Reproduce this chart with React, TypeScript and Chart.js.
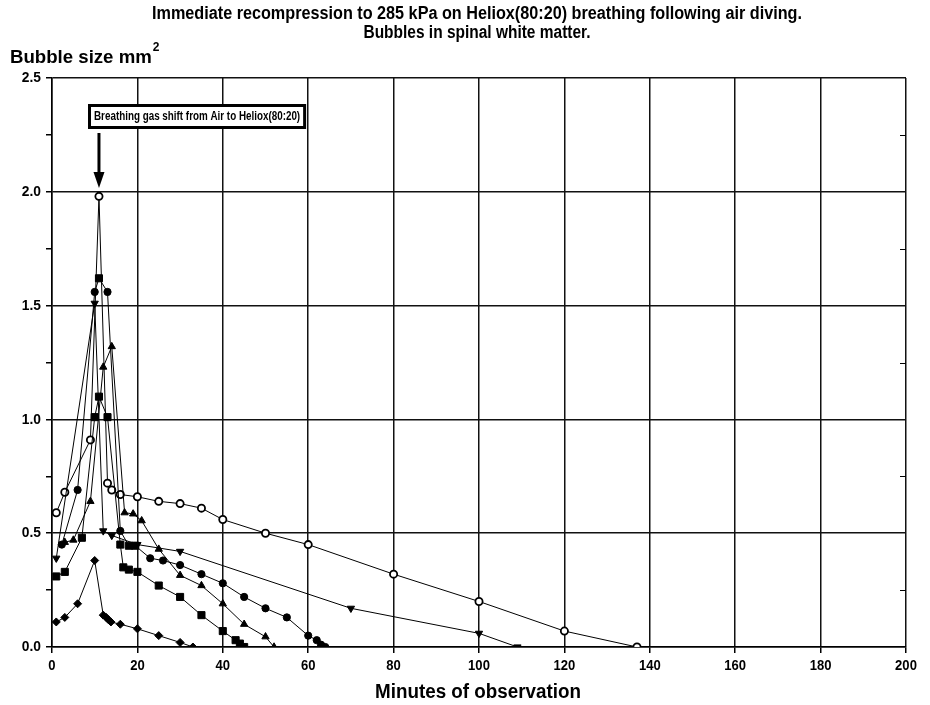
import React, { useEffect, useRef } from 'react';
import { Chart, registerables } from 'chart.js';

Chart.register(...registerables);

const FONT = "'Liberation Sans', Arial, sans-serif";

const titleLines = [
  'Immediate recompression to 285 kPa on Heliox(80:20) breathing following air diving.',
  'Bubbles in spinal white matter.',
];
const yAxisTitle = 'Bubble size mm';
const yAxisTitleSup = '2';
const xAxisTitle = 'Minutes of observation';
const annotationText = 'Breathing gas shift from Air to Heliox(80:20)';
const annotationX = 11;

const xTickValues = [0, 20, 40, 60, 80, 100, 120, 140, 160, 180, 200];
const yTickValues = [0, 0.5, 1.0, 1.5, 2.0, 2.5];

// Series: open circles
const openCircleX = [1, 3, 9, 11, 13, 14, 16, 20, 25, 30, 35, 40, 50, 60, 80, 100, 120, 137];
const openCircleY = [0.59, 0.68, 0.91, 1.98, 0.72, 0.69, 0.67, 0.66, 0.64, 0.63, 0.61, 0.56, 0.5, 0.45, 0.32, 0.2, 0.07, 0];

// Series: filled circles (a few points drawn with square markers as in the source)
const filledCircleX = [2.3, 6, 10, 11, 13, 16, 18, 19.5, 23, 26, 30, 35, 40, 45, 50, 55, 60, 62, 63, 64];
const filledCircleY = [0.45, 0.69, 1.56, 1.62, 1.56, 0.51, 0.445, 0.445, 0.39, 0.38, 0.36, 0.32, 0.28, 0.22, 0.17, 0.13, 0.05, 0.03, 0.01, 0];
const filledCircleSquareAt = [11, 18, 19.5];

// Series: squares
const squareX = [1, 3, 7, 10, 11, 13, 16, 16.7, 18, 20, 25, 30, 35, 40, 43, 44, 45];
const squareY = [0.31, 0.33, 0.48, 1.01, 1.1, 1.01, 0.45, 0.35, 0.34, 0.33, 0.27, 0.22, 0.14, 0.07, 0.03, 0.015, 0];

// Series: up triangles
const triangleX = [3, 5, 9, 12, 14, 17, 19, 21, 25, 30, 35, 40, 45, 50, 52];
const triangleY = [0.46, 0.47, 0.64, 1.23, 1.32, 0.59, 0.585, 0.555, 0.43, 0.315, 0.27, 0.19, 0.1, 0.045, 0];

// Series: down triangles
const downTriangleX = [1, 10, 12, 14, 20, 30, 70, 100, 109];
const downTriangleY = [0.39, 1.51, 0.51, 0.49, 0.45, 0.42, 0.17, 0.06, 0];

// Series: diamonds
const diamondX = [1, 3, 6, 10, 12, 12.7, 13.2, 13.8, 16, 20, 25, 30, 33];
const diamondY = [0.11, 0.13, 0.19, 0.38, 0.14, 0.13, 0.12, 0.11, 0.1, 0.08, 0.05, 0.02, 0];

const pts = (xs: number[], ys: number[]) => xs.map((x, i) => ({ x, y: ys[i] }));

const isMajorY = (v: number) => Math.abs(v * 2 - Math.round(v * 2)) < 1e-6;

function drawText(
  ctx: CanvasRenderingContext2D,
  text: string,
  x: number,
  y: number,
  size: number,
  sx: number,
  align: CanvasTextAlign,
) {
  ctx.save();
  ctx.font = `bold ${size}px ${FONT}`;
  ctx.textAlign = align;
  ctx.textBaseline = 'middle';
  ctx.translate(x, y);
  ctx.scale(sx, 1);
  ctx.fillText(text, 0, 0);
  ctx.restore();
}

function textWidth(ctx: CanvasRenderingContext2D, text: string, size: number, sx: number) {
  ctx.save();
  ctx.font = `bold ${size}px ${FONT}`;
  const w = ctx.measureText(text).width * sx;
  ctx.restore();
  return w;
}

const textPlugin = {
  id: 'customTexts',
  beforeDraw(chart: any) {
    const ctx = chart.ctx;
    ctx.save();
    ctx.fillStyle = '#fff';
    ctx.fillRect(0, 0, chart.width, chart.height);
    ctx.restore();
  },
  afterDraw(chart: any) {
    const ctx = chart.ctx as CanvasRenderingContext2D;
    const xs = chart.scales.x;
    const ys = chart.scales.y;
    const area = chart.chartArea;
    ctx.save();
    ctx.fillStyle = '#000';
    ctx.strokeStyle = '#000';

    const cx = (area.left + area.right) / 2;

    // Title
    drawText(ctx, titleLines[0], cx - 2, 14, 18, 0.9, 'center');
    drawText(ctx, titleLines[1], cx - 2, 33, 18, 0.86, 'center');

    // Y axis title
    drawText(ctx, yAxisTitle, 10, 58, 19, 0.98, 'left');
    const w = textWidth(ctx, yAxisTitle, 19, 0.98);
    drawText(ctx, yAxisTitleSup, 10 + w + 1, 48, 12, 1, 'left');

    // X axis title
    drawText(ctx, xAxisTitle, cx - 1, 692, 20, 0.94, 'center');

    // Tick labels
    xTickValues.forEach((v) => {
      drawText(ctx, String(v), xs.getPixelForValue(v), 666, 15, 0.87, 'center');
    });
    yTickValues.forEach((v) => {
      drawText(ctx, v.toFixed(1), area.left - 11, ys.getPixelForValue(v), 15, 0.92, 'right');
    });

    // inner minor ticks on the right border
    ctx.lineWidth = 1;
    ys.ticks.forEach((t: any) => {
      if (!isMajorY(t.value)) {
        const y = Math.round(ys.getPixelForValue(t.value)) + 0.5;
        ctx.beginPath();
        ctx.moveTo(area.right - 6, y);
        ctx.lineTo(area.right, y);
        ctx.stroke();
      }
    });

    // Annotation box
    const bsz = 12;
    const bsx = 0.82;
    const tw = textWidth(ctx, annotationText, bsz, bsx);
    const bx = 88;
    const by = 104;
    const bw = tw + 12;
    const bh = 25;
    ctx.fillStyle = '#fff';
    ctx.fillRect(bx, by, bw, bh);
    ctx.lineWidth = 3;
    ctx.strokeRect(bx + 1.5, by + 1.5, bw - 3, bh - 3);
    ctx.fillStyle = '#000';
    drawText(ctx, annotationText, bx + 6, by + bh / 2 + 0.5, bsz, bsx, 'left');

    // Arrow
    const ax = xs.getPixelForValue(annotationX);
    ctx.lineWidth = 3;
    ctx.beginPath();
    ctx.moveTo(ax, by + bh + 4);
    ctx.lineTo(ax, 176);
    ctx.stroke();
    ctx.beginPath();
    ctx.moveTo(ax - 5.5, 172);
    ctx.lineTo(ax + 5.5, 172);
    ctx.lineTo(ax, 188);
    ctx.closePath();
    ctx.fill();

    ctx.restore();
  },
};

const lineDs = (data: any[], style: any, radius: any, fill: string, rotation = 0, bw = 1) => ({
  data,
  showLine: true,
  borderColor: '#000',
  borderWidth: 1,
  pointStyle: style,
  pointRadius: radius,
  pointRotation: rotation,
  pointBackgroundColor: fill,
  pointBorderColor: '#000',
  pointBorderWidth: bw,
  tension: 0,
});

export default function App() {
  const ref = useRef<HTMLCanvasElement>(null);

  useEffect(() => {
    if (!ref.current) return;
    const fcStyles = filledCircleX.map((x) => (filledCircleSquareAt.includes(x) ? 'rect' : 'circle'));
    const fcRadius = filledCircleX.map((x) => (filledCircleSquareAt.includes(x) ? 5 : 3.6));
    const chart = new Chart(ref.current, {
      type: 'scatter',
      data: {
        datasets: [
          lineDs(pts(diamondX, diamondY), 'rectRot', 4, '#000'),
          lineDs(pts(squareX, squareY), 'rect', 5, '#000'),
          lineDs(pts(triangleX, triangleY), 'triangle', 4.2, '#000'),
          lineDs(pts(downTriangleX, downTriangleY), 'triangle', 4.2, '#000', 180),
          lineDs(pts(filledCircleX, filledCircleY), fcStyles, fcRadius, '#000'),
          lineDs(pts(openCircleX, openCircleY), 'circle', 3.6, '#fff', 0, 1.8),
        ] as any,
      },
      options: {
        responsive: false,
        animation: false,
        layout: { padding: { top: 78, right: 24, bottom: 0, left: 0 } },
        plugins: {
          legend: { display: false },
          title: { display: false },
          tooltip: { enabled: false },
        },
        scales: {
          x: {
            type: 'linear',
            min: 0,
            max: 200,
            ticks: { stepSize: 20, display: false },
            grid: { color: '#111', lineWidth: 1.5, drawTicks: true, tickLength: 6, tickColor: '#000' },
            border: { color: '#000', width: 1.5 },
            afterFit: (s: any) => {
              s.height = 58;
            },
          },
          y: {
            type: 'linear',
            min: 0,
            max: 2.5,
            ticks: { stepSize: 0.25, display: false },
            grid: {
              color: (c: any) => (c.tick && isMajorY(c.tick.value) ? '#111' : 'rgba(0,0,0,0)'),
              lineWidth: 1.5,
              drawTicks: true,
              tickLength: 6,
              tickColor: '#000',
            },
            border: { color: '#000', width: 1.5 },
            afterFit: (s: any) => {
              s.width = 52;
            },
          },
        },
      },
      plugins: [textPlugin],
    });
    return () => chart.destroy();
  }, []);

  return (
    <div style={{ position: 'absolute', left: 0, top: 0, width: 930, height: 705, background: '#fff' }}>
      <canvas ref={ref} width={930} height={705} style={{ display: 'block' }} />
    </div>
  );
}
